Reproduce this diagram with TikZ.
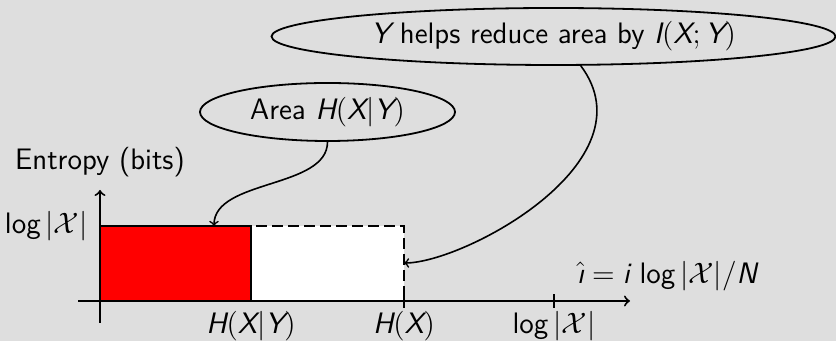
\RequirePackage{fix-cm}
\documentclass[tikz,border=0pt]{standalone}
\usetikzlibrary{shapes.geometric}
\definecolor{bg}{HTML}{DEDEDE}
\newcommand{\sv}[1]{\mbox{\sffamily\itshape #1}}
\newcommand{\slog}{\mathop{\mbox{\sffamily log}}\nolimits}
\begin{document}
\begin{tikzpicture}[x=0.5pt,y=0.5pt,
  every node/.style={font=\sffamily\fontsize{14.8}{17}\selectfont, inner sep=0pt},
  axisline/.style={line width=1pt,->},
  boxline/.style={line width=1.1pt},
  callout/.style={line width=0.8pt,->},
  bubble/.style={ellipse, draw, line width=0.9pt, inner sep=0pt}]
\fill[bg] (0,0) rectangle (836,341);
\useasboundingbox (0,0) rectangle (836,341);
% rectangles
\draw[boxline, fill=white, dash pattern=on 5.5pt off 2.5pt] (251,40) rectangle (404,115);
\draw[boxline, fill=red] (100,40) rectangle (251,115);
% axes
\coordinate (xs) at (78,40);
\coordinate (xe) at (630,40);
\coordinate (ys) at (100,18);
\coordinate (ye) at (100,151);
\draw[axisline] (xs) -- (xe);
\draw[axisline] (ys) -- (ye);
% ticks
\coordinate (t1a) at (404,33); \coordinate (t1b) at (404,47);
\coordinate (t2a) at (554,33); \coordinate (t2b) at (554,47);
\draw[axisline,-] (t1a) -- (t1b);
\draw[axisline,-] (t2a) -- (t2b);
% labels
\node (ent) at (100,179) {Entropy (bits)};
\node[anchor=east] (lx) at (88,115) {$\slog|\mathcal{X}|$};
\node (hxy) at (251,15) {$\sv{H}(\sv{X}|\sv{Y})$};
\node (hx) at (404,15) {$\sv{H}(\sv{X})$};
\node (lgx) at (554,15) {$\slog|\mathcal{X}|$};
\node (ih) at (667,65) {$\hat{\sv{\i}}=\sv{i}\,\slog|\mathcal{X}|/\sv{N}$};
% bubbles
\node[bubble, minimum width=282pt, minimum height=28.5pt] (e1) at (553.5,304.5) {$\sv{Y}$ helps reduce area by $\sv{I}(\sv{X};\sv{Y})$};
\node[bubble, minimum width=127.5pt, minimum height=29pt] (e2) at (327.5,229) {Area $\sv{H}(\sv{X}|\sv{Y})$};
% callouts
\coordinate (pa) at (214,115);
\coordinate (pb) at (404,78);
\draw[callout] (e2.south) .. controls +(0,-47) and +(0,47) .. (pa);
\draw[callout] (e1.-47) .. controls +(72,-96) and +(60,0) .. (pb);
\end{tikzpicture}
\end{document}
